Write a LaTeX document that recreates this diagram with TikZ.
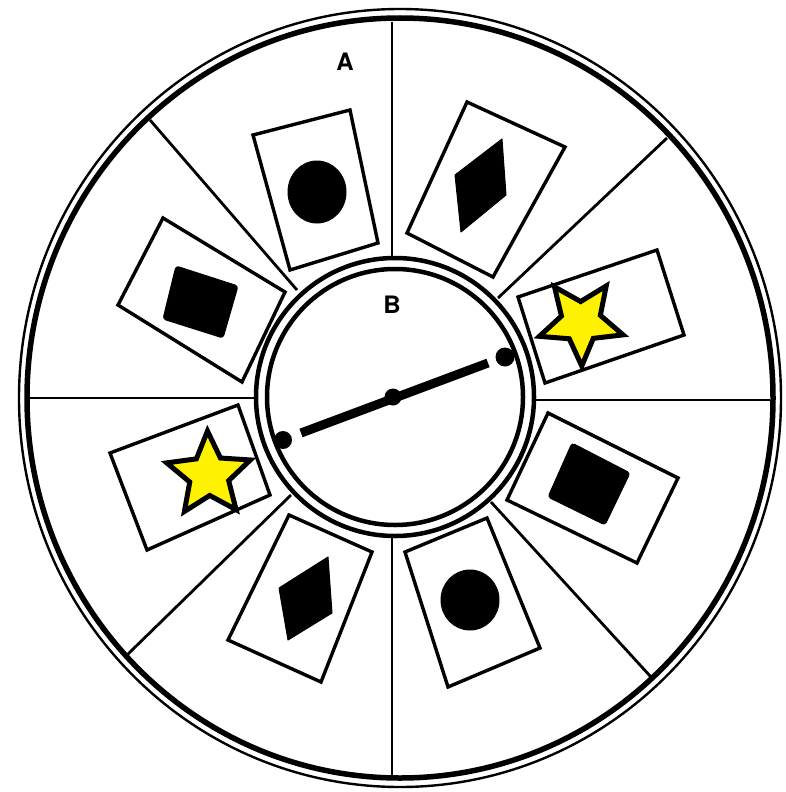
\documentclass[tikz,border=0pt]{standalone}
\usepackage{fontspec}
\setsansfont{TeX Gyre Heros}
\usetikzlibrary{shapes.geometric}
\begin{document}
\begin{tikzpicture}[x=1pt,y=-1pt,
  spoke/.style={line width=2.8pt},
  ringline/.style={line width=4.5pt},
  card/.style={draw=black, fill=white, line width=3.4pt, line join=miter},
  symb/.style={fill=black, draw=black, line width=1pt, line join=round},
  starshape/.style={star, star points=5, star point ratio=2.15, minimum size=88pt,
    inner sep=0pt, fill=yellow, draw=black, line width=5pt, line join=miter},
  lbl/.style={font=\sffamily\bfseries\fontsize{24}{24}\selectfont, inner sep=0pt},
  hand/.style={line width=9pt}
]
\useasboundingbox (0,0) rectangle (786,792);
\fill[white] (0,0) rectangle (786,792);

% outer double circle
\coordinate (O) at (400,398);
\coordinate (C) at (395,397);
\draw[line width=2.4pt] (O) ellipse [x radius=381, y radius=389];
\draw[line width=5.5pt] (O) ellipse [x radius=373, y radius=380];

% spokes
\coordinate (t1) at (392,22);  \coordinate (t2) at (392,257);
\coordinate (b1) at (392,776); \coordinate (b2) at (392,537);
\coordinate (l1) at (30,398);  \coordinate (l2) at (256,398);
\coordinate (r1) at (770,400); \coordinate (r2) at (534,400);
\coordinate (tl1) at (150,120); \coordinate (tl2) at (297,290);
\coordinate (tr1) at (667,138); \coordinate (tr2) at (498,298);
\coordinate (bl1) at (127,655); \coordinate (bl2) at (291,495);
\coordinate (br1) at (651,677); \coordinate (br2) at (491,502);
\foreach \s in {t,b,l,r,tl,tr,bl,br}{\draw[spoke] (\s1) -- (\s2);}

% inner double circle
\draw[ringline] (C) circle [radius=139];
\draw[ringline] (C) circle [radius=128];

% cards
\draw[card] (253,135) -- (350,110) -- (378,243) -- (290,270) -- cycle;
\fill[symb] (317,192) ellipse [x radius=29, y radius=31];

\draw[card] (467,102) -- (565,147) -- (493,277) -- (407,233) -- cycle;
\filldraw[symb] (502,139) -- (506,195) -- (461,232) -- (455,175) -- cycle;

\draw[card] (518,297) -- (657,250) -- (684,335) -- (545,383) -- cycle;
\node[starshape, shape border rotate=181] (star1) at (581,322) {};

\draw[card] (548,413) -- (678,478) -- (637,563) -- (507,500) -- cycle;
\filldraw[symb, rounded corners=3pt] (572,443) -- (630,473) -- (605,525) -- (548,497) -- cycle;

\draw[card] (405,552) -- (487,518) -- (540,648) -- (448,687) -- cycle;
\fill[symb] (470,600) ellipse [x radius=29, y radius=30];

\draw[card] (289,515) -- (372,552) -- (321,682) -- (228,640) -- cycle;
\filldraw[symb] (328,557) -- (332,613) -- (288,640) -- (279,588) -- cycle;

\draw[card] (110,453) -- (238,405) -- (270,495) -- (147,550) -- cycle;
\node[starshape, shape border rotate=2] (star2) at (209,475) {};

\draw[card] (163,218) -- (285,292) -- (242,382) -- (118,305) -- cycle;
\filldraw[symb, rounded corners=3pt] (176,266) -- (238,286) -- (223,338) -- (163,319) -- cycle;

% hand
\draw[hand] (301,433) -- (488,363);
\fill (283,440) circle [radius=9];
\fill (505,357) circle [radius=9.5];
\fill (393,397) circle [radius=8.5];

% labels
\node[lbl] (A) at (345,62) {A};
\node[lbl] (B) at (392,305) {B};
\end{tikzpicture}
\end{document}
